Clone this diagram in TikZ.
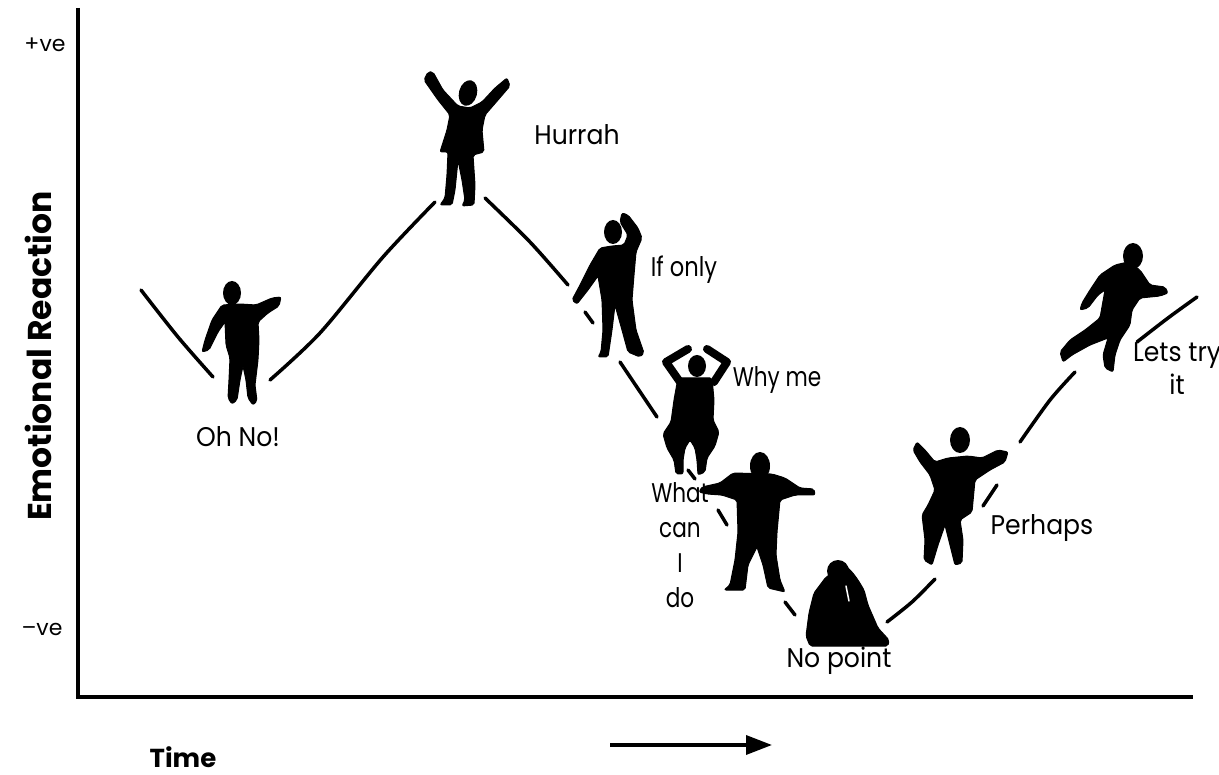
\documentclass[tikz,border=0pt]{standalone}
\usepackage{fontspec}
\setmainfont{Poppins}
\usetikzlibrary{arrows.meta}
\begin{document}
\begin{tikzpicture}[x=1pt,y=-1pt,
  lbl/.style={font=\fontsize{27}{36}\selectfont, inner sep=0pt, align=center, xscale=0.93},
  axlbl/.style={font=\fontsize{33}{36}\selectfont\bfseries, inner sep=0pt},
  tick/.style={font=\fontsize{22}{26}\selectfont, inner sep=0pt},
  axis/.style={line width=3.5pt},
  curve/.style={line width=3.5pt, line cap=round},
  body/.style={fill=black, draw=black, line width=1pt, line join=round, rounded corners=2pt},
  limb/.style={draw=black, line width=8pt, line cap=round, line join=round}]
\useasboundingbox (0,0) rectangle (1219,775);

% axes
\coordinate (top) at (78,8);
\coordinate (origin) at (78,697);
\coordinate (xend) at (1193,697);
\draw[axis] (top) -- (origin) -- (xend);
\node[tick] (pos) at (45,45) {+ve};
\node[tick] (neg) at (42,629) {\symbol{"2013}ve};
\node[axlbl, rotate=90] (ylab) at (38,356) {Emotional Reaction};
\node[axlbl, font=\fontsize{26}{30}\selectfont\bfseries] (xlab) at (183,757) {Time};
\coordinate (arrS) at (610,745);
\coordinate (arrE) at (772,745);
\draw[line width=3.5pt, -{Triangle[length=26pt,width=19pt]}] (arrS) -- (arrE);

% the emotional curve, broken where the figures stand
\draw[curve] plot[smooth] coordinates {(141,290) (178,337) (213,377)};
\draw[curve] plot[smooth] coordinates {(270,380) (320,333) (383,257) (435,202)};
\draw[curve] plot[smooth] coordinates {(485,198) (530,242) (568,285)};
\draw[curve] (585,312) -- (593,323);
\draw[curve] (620,362) -- (657,417);
\draw[curve] (688,470) -- (695,479);
\draw[curve] (718,510) -- (727,525);
\draw[curve] (785,602) -- (795,615);
\draw[curve] plot[smooth] coordinates {(887,622) (912,602) (935,579)};
\draw[curve] (983,506) -- (997,485);
\draw[curve] plot[smooth] coordinates {(1020,442) (1050,400) (1075,372)};
\draw[curve] plot[smooth] coordinates {(1137,342) (1168,318) (1197,297)};

% figure: Oh No!
\fill (232,293) ellipse [x radius=9, y radius=12];
\draw[body] (222,305) -- (212,320) -- (205,340) -- (202,352) -- (209,350) -- (218,332) -- (225,322)
  -- (226,345) -- (230,358) -- (229,380) -- (228,398) -- (232,404) -- (237,400) -- (240,380) -- (243,366)
  -- (246,380) -- (248,398) -- (253,405) -- (257,401) -- (255,385) -- (258,360) -- (259,340) -- (258,322)
  -- (268,313) -- (279,306) -- (281,297) -- (272,298) -- (256,305) -- (240,304) -- cycle;

% figure: Hurrah
\fill[rotate around={-15:(468,93)}] (468,93) ellipse [x radius=9, y radius=13];
\draw[body] (428,72) -- (424,80) -- (438,100) -- (450,115) -- (447,130) -- (440,152) -- (448,152)
  -- (447,175) -- (445,198) -- (440,205) -- (452,205) -- (455,190) -- (458,160) -- (462,180) -- (465,200)
  -- (462,206) -- (474,205) -- (475,185) -- (473,155) -- (484,152) -- (482,130) -- (485,115) -- (498,100)
  -- (510,86) -- (507,78) -- (495,88) -- (482,102) -- (470,108) -- (458,106) -- (443,90) -- (433,72) -- cycle;

% figure: If only
\fill (613,232) ellipse [x radius=9, y radius=12];
\draw[body] (600,248) -- (590,265) -- (580,285) -- (572,300) -- (577,304) -- (588,290) -- (598,276)
  -- (602,300) -- (603,330) -- (601,352) -- (598,357) -- (608,357) -- (612,330) -- (615,305) -- (622,330)
  -- (628,352) -- (640,357) -- (644,353) -- (636,330) -- (632,300) -- (634,275) -- (636,252) -- (642,238)
  -- (638,228) -- (628,215) -- (622,213) -- (620,222) -- (628,235) -- (624,245) -- (612,246) -- cycle;

% figure: Why me
\fill (697,366) ellipse [x radius=9, y radius=11];
\draw[limb] (680,382) -- (666,362) -- (688,349);
\draw[limb] (714,382) -- (727,362) -- (707,349);
\draw[body] (678,378) -- (712,378) -- (714,400) -- (713,420) -- (719,432) -- (715,446) -- (707,458)
  -- (705,472) -- (698,475) -- (697,460) -- (695,448) -- (690,440) -- (685,448) -- (683,460) -- (683,474)
  -- (676,474) -- (674,460) -- (667,448) -- (663,434) -- (671,422) -- (674,400) -- cycle;

% figure: What can I do
\fill (760,466) ellipse [x radius=10, y radius=14];
\draw[body] (733,473) -- (720,483) -- (702,487) -- (699,492) -- (707,494) -- (722,495) -- (737,500)
  -- (738,532) -- (735,560) -- (730,585) -- (724,590) -- (745,590) -- (748,565) -- (757,547) -- (763,565)
  -- (768,588) -- (785,592) -- (780,580) -- (776,555) -- (777,532) -- (780,500) -- (795,495) -- (815,495)
  -- (814,489) -- (800,488) -- (785,478) -- (772,474) -- cycle;

% figure: No point
\fill (838,571) ellipse [x radius=11, y radius=11];
\draw[body] (826,577) -- (814,593) -- (809,613) -- (806,636) -- (810,646) -- (888,646) -- (889,640)
  -- (878,628) -- (868,605) -- (864,590) -- (858,580) -- (852,572) -- (846,566) -- cycle;
\draw[white, line width=1.5pt, line cap=round] (846,586) -- (849,601);

% figure: Perhaps
\fill (960,440) ellipse [x radius=10, y radius=13];
\draw[body] (948,458) -- (935,462) -- (925,450) -- (917,442) -- (913,450) -- (920,462) -- (930,475)
  -- (935,490) -- (928,505) -- (922,515) -- (925,540) -- (924,560) -- (932,565) -- (938,545) -- (945,525)
  -- (950,545) -- (955,565) -- (962,563) -- (963,540) -- (960,520) -- (972,512) -- (975,480) -- (990,470)
  -- (1005,462) -- (1008,452) -- (998,450) -- (982,458) -- (968,456) -- cycle;

% figure: Lets try it
\fill (1133,256) ellipse [x radius=10, y radius=13];
\draw[body] (1115,265) -- (1100,275) -- (1090,290) -- (1082,303) -- (1080,310) -- (1088,308) -- (1098,295)
  -- (1105,290) -- (1100,318) -- (1085,330) -- (1070,340) -- (1060,352) -- (1063,362) -- (1072,355)
  -- (1090,345) -- (1108,338) -- (1103,355) -- (1105,368) -- (1113,372) -- (1115,355) -- (1120,340)
  -- (1130,325) -- (1132,310) -- (1140,298) -- (1160,296) -- (1168,293) -- (1165,287) -- (1150,285)
  -- (1140,270) -- (1128,262) -- cycle;

% labels
\node[lbl] (ohno) at (238,437) {Oh No!};
\node[lbl] (hurrah) at (577,135) {Hurrah};
\node[lbl, xscale=0.9] (ifonly) at (684,270) {If only};
\node[lbl, xscale=0.86] (whyme) at (777,380) {Why me};
\node[lbl, xscale=0.86, font=\fontsize{27}{35}\selectfont] (whatcan) at (680,545) {What\\can\\I\\do};
\node[lbl] (nopoint) at (839,661) {No point};
\node[lbl] (perhaps) at (1042,528) {Perhaps};
\node[lbl, font=\fontsize{27}{33}\selectfont] (letstry) at (1177,369) {Lets try\\it};
\end{tikzpicture}
\end{document}
